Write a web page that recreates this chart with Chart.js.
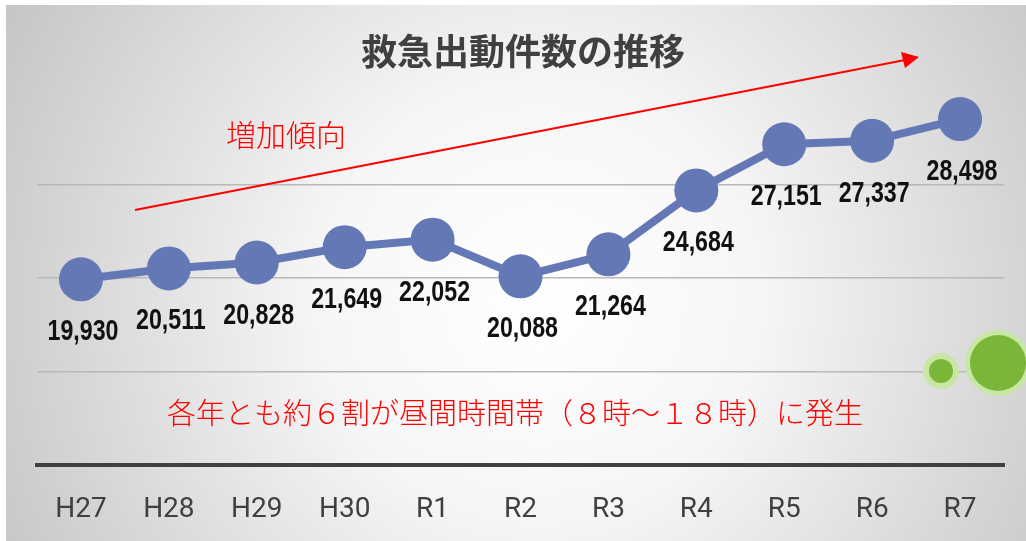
<!DOCTYPE html>
<html><head><meta charset="utf-8">
<script src="https://cdn.jsdelivr.net/npm/chart.js@4/dist/chart.umd.min.js"></script>
<style>html,body{margin:0;padding:0;background:#fff;overflow:hidden}canvas{display:block}</style>
</head><body>
<canvas id="c" width="1026" height="541"></canvas>
<script>
const categories = ['H27','H28','H29','H30','R1','R2','R3','R4','R5','R6','R7'];
const dispatches = [19930,20511,20828,21649,22052,20088,21264,24684,27151,27337,28498];
const chartTitle = '救急出動件数の推移';
const trendNote = '増加傾向';
const footNote = '各年とも約６割が昼間時間帯（８時～１８時）に発生';

const bgPlugin = {
  id:'bg',
  beforeDraw(chart){
    const ctx = chart.ctx;
    ctx.save();
    ctx.fillStyle = '#ffffff';
    ctx.fillRect(0,0,chart.width,chart.height);
    const g = ctx.createRadialGradient(540,300,0,540,300,620);
    g.addColorStop(0,'#ffffff');
    g.addColorStop(0.35,'#f6f6f6');
    g.addColorStop(1,'#c4c4c4');
    ctx.fillStyle = g;
    ctx.fillRect(6,5,chart.width-6,chart.height-5);
    ctx.restore();
  },
  afterDatasetsDraw(chart){
    const ctx = chart.ctx;
    ctx.save();
    ctx.fillStyle = '#404040';
    ctx.font = 'bold 36px "Noto Sans CJK JP"';
    ctx.textAlign = 'center'; ctx.textBaseline = 'middle';
    ctx.fillText(chartTitle, 523, 51);
    ctx.strokeStyle = '#ff0000'; ctx.lineWidth = 2;
    ctx.beginPath(); ctx.moveTo(135,210); ctx.lineTo(905,60); ctx.stroke();
    ctx.fillStyle = '#ff0000';
    ctx.beginPath(); ctx.moveTo(919,57); ctx.lineTo(901,52); ctx.lineTo(905,68); ctx.closePath(); ctx.fill();
    ctx.font = '300 30px "Noto Sans CJK JP"';
    ctx.fillText(trendNote, 286, 135);
    ctx.font = '300 29px "Noto Sans CJK JP"';
    ctx.fillText(footNote, 515, 413);
    const circ=(x,y,r,col)=>{ctx.fillStyle=col;ctx.beginPath();ctx.arc(x,y,r,0,Math.PI*2);ctx.fill();};
    circ(941,371,18,'#c8e6a6'); circ(941,371,12,'#7ab637');
    circ(998,363,33,'#c8e6a6'); circ(998,363,28,'#7ab637');
    const meta = chart.getDatasetMeta(0);
    ctx.fillStyle = '#111111';
    ctx.font = 'bold 29px "Liberation Sans", Arial, sans-serif';
    meta.data.forEach((pt,i)=>{
      const v = chart.data.datasets[0].data[i];
      ctx.save();
      ctx.translate(pt.x+2, pt.y+53);
      ctx.scale(0.8,1);
      ctx.fillText(v.toLocaleString('en-US'), 0, 0);
      ctx.restore();
    });
    ctx.restore();
  }
};

new Chart(document.getElementById('c'), {
  type:'line',
  data:{labels:categories, datasets:[{
    data:dispatches,
    borderColor:'#6478b5', backgroundColor:'#6478b5',
    borderWidth:8, pointRadius:22, pointHoverRadius:22,
    pointBackgroundColor:'#6478b5', pointBorderWidth:0, tension:0
  }]},
  options:{
    responsive:false, animation:false,
    layout:{padding:{left:37,right:16,top:91,bottom:12}},
    plugins:{legend:{display:false},tooltip:{enabled:false}},
    scales:{
      x:{offset:true,
        afterFit(axis){ axis.height = 64; },
        grid:{display:false,drawTicks:false},
        border:{display:true,color:'#404040',width:4},
        ticks:{padding:28,color:'#404040',maxRotation:0,font:{family:'Roboto, sans-serif',size:28}}
      },
      y:{min:10000,max:30000,
        ticks:{display:false,stepSize:5000},
        border:{display:false},
        grid:{drawTicks:false,lineWidth:1.5,color:(c)=> (c.tick && (c.tick.value===30000||c.tick.value===10000)) ? 'rgba(0,0,0,0)' : '#b8b8b8'}
      }
    }
  },
  plugins:[bgPlugin]
});
</script>
</body></html>
